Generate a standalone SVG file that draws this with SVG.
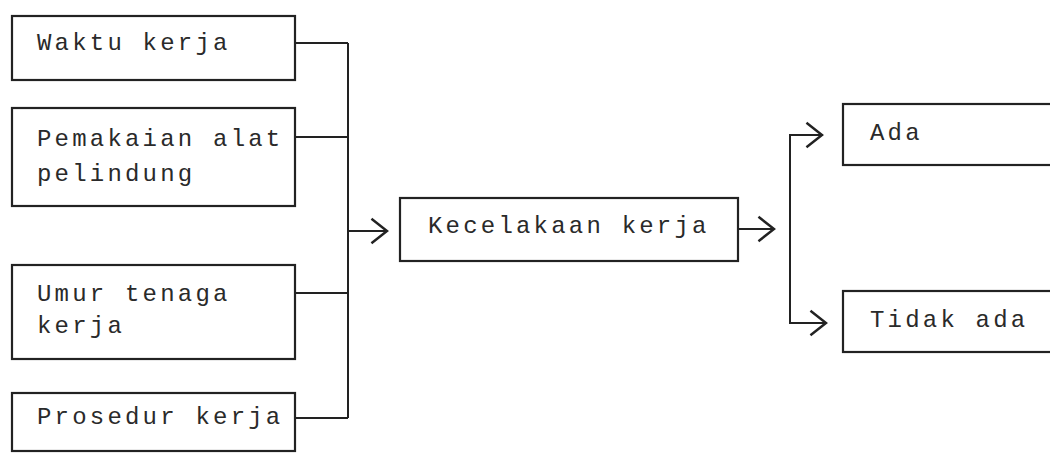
<svg xmlns="http://www.w3.org/2000/svg" width="1050" height="453" viewBox="0 0 1050 453">
<defs>
<style>
.box{fill:#fff;stroke:#222;stroke-width:2.2}
.t{font-family:"Liberation Mono","DejaVu Sans Mono",monospace;font-size:24px;letter-spacing:3.2px;fill:#2a2a2a}
.c{fill:none;stroke:#222;stroke-width:2}
</style>
<marker id="ah" markerUnits="userSpaceOnUse" markerWidth="20" markerHeight="30" viewBox="-16 -13 18 26" refX="0" refY="0" orient="auto">
<path d="M-14,-11 L0,0 L-14,11" fill="none" stroke="#222" stroke-width="2.2"/>
</marker>
</defs>
<rect width="1050" height="453" fill="#fff"/>
<g id="connectors">
<path class="c" d="M295,43 H348 M295,137 H348 M295,293 H348 M295,418 H348 M348,43 V418"/>
<path class="c" d="M348,231 H387" marker-end="url(#ah)"/>
<path class="c" d="M738,229 H774" marker-end="url(#ah)"/>
<path class="c" d="M823,135 H790 V323 H826" marker-end="url(#ah)"/>
<path class="c" d="M790,135 H822" marker-end="url(#ah)"/>
</g>
<g id="n-waktu"><rect class="box" x="12" y="16" width="283" height="64"/><text class="t" x="37" y="50">Waktu kerja</text></g>
<g id="n-pemakaian"><rect class="box" x="12" y="108" width="283" height="98"/><text class="t" x="37" y="146">Pemakaian alat</text><text class="t" x="37" y="181">pelindung</text></g>
<g id="n-umur"><rect class="box" x="12" y="265" width="283" height="94"/><text class="t" x="37" y="301">Umur tenaga</text><text class="t" x="37" y="333">kerja</text></g>
<g id="n-prosedur"><rect class="box" x="12" y="393" width="283" height="58"/><text class="t" x="37" y="424">Prosedur kerja</text></g>
<g id="n-kecelakaan"><rect class="box" x="400" y="198" width="338" height="63"/><text class="t" x="428" y="233">Kecelakaan kerja</text></g>
<g id="n-ada"><rect class="box" x="843" y="104" width="210" height="61"/><text class="t" x="870" y="140">Ada</text></g>
<g id="n-tidak"><rect class="box" x="843" y="291" width="210" height="61"/><text class="t" x="870" y="327">Tidak ada</text></g>
</svg>
